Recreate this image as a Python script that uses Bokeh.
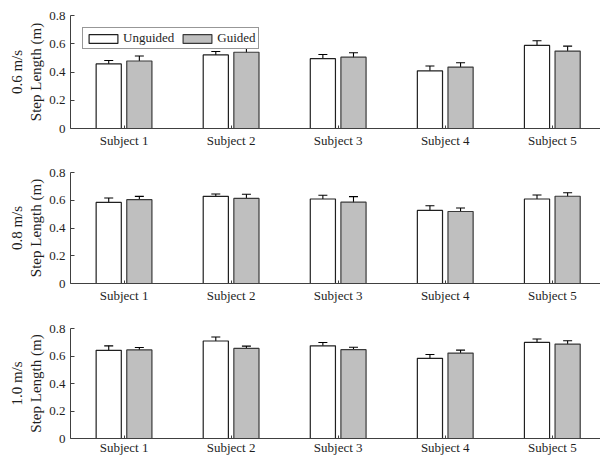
from bokeh.plotting import figure
from bokeh.layouts import column
from bokeh.models import ColumnDataSource, Whisker, FixedTicker, Range1d, TeeHead
from bokeh.transform import dodge
from bokeh.embed import file_html
from bokeh.resources import INLINE

# Mean step length (m) and standard deviation per subject, for three treadmill speeds
subjects = ["Subject 1", "Subject 2", "Subject 3", "Subject 4", "Subject 5"]
speeds = ["0.6 m/s", "0.8 m/s", "1.0 m/s"]

unguided_06 = [0.457, 0.521, 0.494, 0.408, 0.588]
unguided_06_sd = [0.024, 0.024, 0.030, 0.035, 0.033]
guided_06 = [0.478, 0.540, 0.505, 0.435, 0.548]
guided_06_sd = [0.035, 0.026, 0.031, 0.030, 0.035]

unguided_08 = [0.584, 0.628, 0.609, 0.527, 0.609]
unguided_08_sd = [0.032, 0.017, 0.027, 0.033, 0.029]
guided_08 = [0.604, 0.613, 0.586, 0.519, 0.629]
guided_08_sd = [0.024, 0.030, 0.040, 0.025, 0.025]

unguided_10 = [0.641, 0.709, 0.674, 0.583, 0.699]
unguided_10_sd = [0.033, 0.029, 0.024, 0.028, 0.025]
guided_10 = [0.644, 0.655, 0.646, 0.621, 0.687]
guided_10_sd = [0.018, 0.017, 0.018, 0.022, 0.024]

y_ticks = [0, 0.2, 0.4, 0.6, 0.8]
y_tick_labels = ["0", "0.2", "0.4", "0.6", "0.8"]

panels = [
    (unguided_06, unguided_06_sd, guided_06, guided_06_sd),
    (unguided_08, unguided_08_sd, guided_08, guided_08_sd),
    (unguided_10, unguided_10_sd, guided_10, guided_10_sd),
]

FONT = "'Liberation Serif'"
TEXT = "#1e1e1e"
AXIS = "#404040"
GRAY = "#bfbfbf"
BAR_W = 0.235
OFFSET = 0.143

# per-panel figure height and border sizes
heights = [152, 153, 152]
tops = [15, 20, 23]
bottoms = [24, 22, 19]
label_gap = [4, 4, 1]

figs = []
for k, (ug, ug_sd, gd, gd_sd) in enumerate(panels):
    pos = [i + 1 for i in range(len(subjects))]
    src = ColumnDataSource(dict(
        x=pos,
        ug=ug, gd=gd,
        ug_lo=[m - s for m, s in zip(ug, ug_sd)],
        ug_hi=[m + s for m, s in zip(ug, ug_sd)],
        gd_lo=[m - s for m, s in zip(gd, gd_sd)],
        gd_hi=[m + s for m, s in zip(gd, gd_sd)],
    ))

    p = figure(width=600, height=heights[k], output_backend="svg",
               toolbar_location=None, x_range=Range1d(0.5, 5.45),
               y_range=Range1d(0, 0.8),
               min_border_left=70, min_border_right=0,
               min_border_top=tops[k], min_border_bottom=bottoms[k])
    p.outline_line_color = None
    p.grid.visible = False
    p.background_fill_color = "white"
    p.border_fill_color = "white"

    kw_u = dict(legend_label="Unguided") if k == 0 else {}
    kw_g = dict(legend_label="Guided") if k == 0 else {}
    p.vbar(x=dodge("x", -OFFSET, range=p.x_range), top="ug", width=BAR_W,
           bottom=0, source=src, fill_color="white", line_color="#202020",
           line_width=1.2, **kw_u)
    p.vbar(x=dodge("x", OFFSET, range=p.x_range), top="gd", width=BAR_W,
           bottom=0, source=src, fill_color=GRAY, line_color="#3a3a3a",
           line_width=1.2, **kw_g)

    for col, off in (("ug", -OFFSET), ("gd", OFFSET)):
        w = Whisker(source=src, base=dodge("x", off, range=p.x_range),
                    lower=col + "_lo", upper=col + "_hi", dimension="height",
                    line_color="black", line_width=1.1,
                    upper_head=TeeHead(size=9, line_color="black", line_width=1.1),
                    lower_head=TeeHead(size=9, line_color="black", line_width=1.1))
        p.add_layout(w)

    # x axis: one tick per subject
    xa = p.xaxis[0]
    xa.ticker = FixedTicker(ticks=pos)
    xa.major_label_overrides = {i + 1: s for i, s in enumerate(subjects)}
    xa.minor_tick_line_color = None
    xa.major_tick_in = 3
    xa.major_tick_out = 0
    xa.axis_line_color = AXIS
    xa.major_tick_line_color = AXIS
    xa.major_label_text_font = FONT
    xa.major_label_text_font_size = "13px"
    xa.major_label_text_color = TEXT
    xa.major_label_standoff = label_gap[k]

    ya = p.yaxis[0]
    ya.ticker = FixedTicker(ticks=y_ticks)
    ya.major_label_overrides = {t: l for t, l in zip(y_ticks, y_tick_labels)}
    ya.minor_tick_line_color = None
    ya.major_tick_in = 4
    ya.major_tick_out = 0
    ya.axis_line_color = AXIS
    ya.major_tick_line_color = AXIS
    ya.major_label_text_font = FONT
    ya.major_label_text_font_size = "13px"
    ya.major_label_text_color = TEXT
    ya.major_label_standoff = 5
    ya.axis_label = speeds[k] + "\nStep Length (m)"
    ya.axis_label_text_font = FONT
    ya.axis_label_text_font_size = "15px"
    ya.axis_label_text_font_style = "normal"
    ya.axis_label_text_color = TEXT
    ya.axis_label_standoff = 2

    if k == 0:
        lg = p.legend[0]
        lg.orientation = "horizontal"
        lg.location = "top_left"
        lg.margin = 12
        lg.padding = 2
        lg.spacing = 5
        lg.glyph_width = 36
        lg.glyph_height = 11
        lg.label_height = 10
        lg.label_standoff = 2
        lg.label_text_font = FONT
        lg.label_text_font_size = "13px"
        lg.label_text_color = TEXT
        lg.border_line_color = "#303030"
        lg.border_line_width = 1
        lg.background_fill_alpha = 1

    figs.append(p)

layout = column(*figs, spacing=0)
open("out.html", "w").write(file_html(layout, INLINE))
